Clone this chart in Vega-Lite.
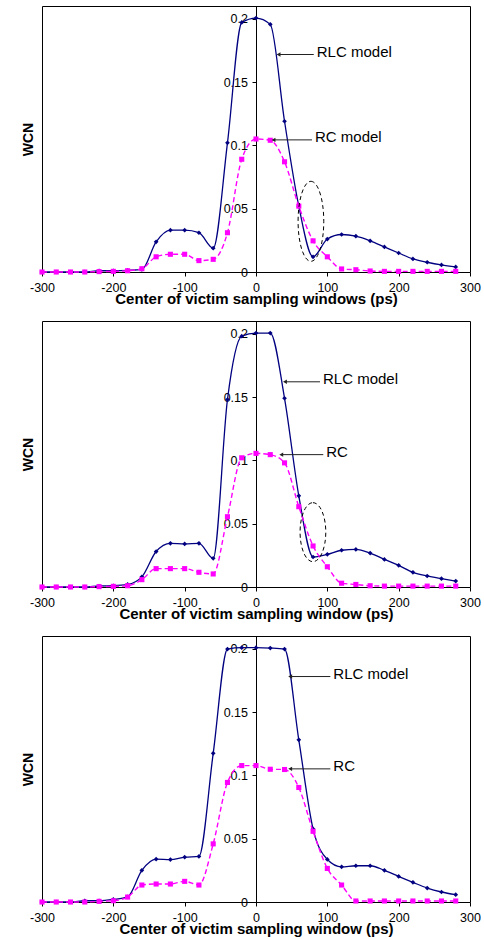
{
  "$schema": "https://vega.github.io/schema/vega-lite/v6.json",
  "padding": {"left": 20, "top": 5, "right": 5, "bottom": 5},
  "background": "white",
  "bounds": "flush",
  "spacing": 49,
  "config": {
    "font": "Liberation Sans",
    "view": {"stroke": "black", "strokeWidth": 1},
    "axis": {"grid": false, "labelFont": "Liberation Sans", "titleFont": "Liberation Sans", "labelColor": "black", "titleColor": "black", "domainColor": "black", "tickColor": "black", "labelFontSize": 12.5, "tickSize": 4, "labelFlush": false}
  },
  "datasets": {
    "p1rlc": [{"t":-300,"v":0},{"t":-280,"v":0},{"t":-260,"v":0},{"t":-240,"v":0},{"t":-220,"v":0.001},{"t":-200,"v":0.001},{"t":-180,"v":0.0013},{"t":-160,"v":0.002},{"t":-140,"v":0.0238},{"t":-120,"v":0.033},{"t":-100,"v":0.033},{"t":-80,"v":0.031},{"t":-60,"v":0.0188},{"t":-40,"v":0.102},{"t":-20,"v":0.197},{"t":0,"v":0.2005},{"t":20,"v":0.1955},{"t":40,"v":0.119},{"t":60,"v":0.052},{"t":80,"v":0.012},{"t":100,"v":0.026},{"t":120,"v":0.0296},{"t":140,"v":0.0283},{"t":160,"v":0.0246},{"t":180,"v":0.0198},{"t":200,"v":0.015},{"t":220,"v":0.0103},{"t":240,"v":0.0077},{"t":260,"v":0.0056},{"t":280,"v":0.004}],
    "p1rc": [{"t":-300,"v":0},{"t":-280,"v":0},{"t":-260,"v":0},{"t":-240,"v":0},{"t":-220,"v":0.0003},{"t":-200,"v":0.0005},{"t":-180,"v":0.001},{"t":-160,"v":0.0026},{"t":-140,"v":0.012},{"t":-120,"v":0.014},{"t":-100,"v":0.014},{"t":-80,"v":0.009},{"t":-60,"v":0.01},{"t":-40,"v":0.031},{"t":-20,"v":0.089},{"t":0,"v":0.105},{"t":20,"v":0.104},{"t":40,"v":0.087},{"t":60,"v":0.052},{"t":80,"v":0.0246},{"t":100,"v":0.012},{"t":120,"v":0.0024},{"t":140,"v":0.0018},{"t":160,"v":0.0008},{"t":180,"v":0.0005},{"t":200,"v":0.0005},{"t":220,"v":0.0005},{"t":240,"v":0.0005},{"t":260,"v":0.0005},{"t":280,"v":0.0005}],
    "p2rlc": [{"t":-300,"v":0},{"t":-280,"v":0},{"t":-260,"v":0},{"t":-240,"v":0},{"t":-220,"v":0.0008},{"t":-200,"v":0.001},{"t":-180,"v":0.002},{"t":-160,"v":0.008},{"t":-140,"v":0.028},{"t":-120,"v":0.0345},{"t":-100,"v":0.034},{"t":-80,"v":0.0345},{"t":-60,"v":0.0226},{"t":-40,"v":0.148},{"t":-20,"v":0.198},{"t":0,"v":0.2005},{"t":20,"v":0.2005},{"t":40,"v":0.149},{"t":60,"v":0.072},{"t":80,"v":0.0237},{"t":100,"v":0.0258},{"t":120,"v":0.029},{"t":140,"v":0.0297},{"t":160,"v":0.0268},{"t":180,"v":0.0218},{"t":200,"v":0.0171},{"t":220,"v":0.0116},{"t":240,"v":0.0087},{"t":260,"v":0.0066},{"t":280,"v":0.0047}],
    "p2rc": [{"t":-300,"v":0},{"t":-280,"v":0},{"t":-260,"v":0},{"t":-240,"v":0},{"t":-220,"v":0.0003},{"t":-200,"v":0.0005},{"t":-180,"v":0.001},{"t":-160,"v":0.0058},{"t":-140,"v":0.0145},{"t":-120,"v":0.0145},{"t":-100,"v":0.0145},{"t":-80,"v":0.0116},{"t":-60,"v":0.0103},{"t":-40,"v":0.0555},{"t":-20,"v":0.102},{"t":0,"v":0.1055},{"t":20,"v":0.1045},{"t":40,"v":0.098},{"t":60,"v":0.0634},{"t":80,"v":0.0324},{"t":100,"v":0.016},{"t":120,"v":0.003},{"t":140,"v":0.002},{"t":160,"v":0.001},{"t":180,"v":0.0007},{"t":200,"v":0.0007},{"t":220,"v":0.0007},{"t":240,"v":0.0007},{"t":260,"v":0.0007},{"t":280,"v":0.0007}],
    "p3rlc": [{"t":-300,"v":0},{"t":-280,"v":0},{"t":-260,"v":0},{"t":-240,"v":0.001},{"t":-220,"v":0.001},{"t":-200,"v":0.002},{"t":-180,"v":0.004},{"t":-160,"v":0.025},{"t":-140,"v":0.0338},{"t":-120,"v":0.0335},{"t":-100,"v":0.0354},{"t":-80,"v":0.036},{"t":-60,"v":0.1174},{"t":-40,"v":0.1997},{"t":-20,"v":0.2008},{"t":0,"v":0.2008},{"t":20,"v":0.2005},{"t":40,"v":0.1997},{"t":60,"v":0.128},{"t":80,"v":0.0577},{"t":100,"v":0.0336},{"t":120,"v":0.0278},{"t":140,"v":0.0286},{"t":160,"v":0.0286},{"t":180,"v":0.025},{"t":200,"v":0.0202},{"t":220,"v":0.0155},{"t":240,"v":0.011},{"t":260,"v":0.0079},{"t":280,"v":0.0058}],
    "p3rc": [{"t":-300,"v":0},{"t":-280,"v":0},{"t":-260,"v":0},{"t":-240,"v":0},{"t":-220,"v":0.0005},{"t":-200,"v":0.001},{"t":-180,"v":0.0039},{"t":-160,"v":0.0134},{"t":-140,"v":0.0142},{"t":-120,"v":0.0142},{"t":-100,"v":0.0163},{"t":-80,"v":0.0134},{"t":-60,"v":0.0459},{"t":-40,"v":0.0944},{"t":-20,"v":0.1077},{"t":0,"v":0.1077},{"t":20,"v":0.1048},{"t":40,"v":0.1046},{"t":60,"v":0.0904},{"t":80,"v":0.0558},{"t":100,"v":0.0265},{"t":120,"v":0.0134},{"t":140,"v":0.0008},{"t":160,"v":0.0008},{"t":180,"v":0.0008},{"t":200,"v":0.0008},{"t":220,"v":0.0008},{"t":240,"v":0.0008},{"t":260,"v":0.0008},{"t":280,"v":0.0008}],
    "p1ann": [{"t":81,"t2":31.6,"v":0.1717,"label":"RLC model"},{"t":78.5,"t2":24.5,"v":0.1043,"label":"RC model"}],
    "p2ann": [{"t":89.7,"t2":40.6,"v":0.162,"label":"RLC model"},{"t":94.3,"t2":35.4,"v":0.1045,"label":"RC"}],
    "p3ann": [{"t":104.2,"t2":47.9,"v":0.178,"label":"RLC model"},{"t":104.2,"t2":47.9,"v":0.1051,"label":"RC"}],
    "p1ell": [{"t":77,"v":0.04}],
    "p2ell": [{"t":79.8,"v":0.0433}]
  },
  "vconcat": [
    {
      "width": 428, "height": 266,
      "encoding": {
        "x": {"field": "t", "type": "quantitative", "scale": {"domain": [-300, 300], "nice": false},
              "axis": {"title": "Center of victim sampling windows (ps)", "values": [-300,-200,-100,0,100,200,300], "labelExpr": "'' + datum.value", "domain": false, "labelPadding": 5, "titleFontSize": 15, "titleFontWeight": "bold", "titlePadding": -2}},
        "y": {"field": "v", "type": "quantitative", "scale": {"domain": [0, 0.21], "nice": false},
              "axis": {"title": "WCN", "values": [0,0.05,0.1,0.15,0.2], "labelExpr": "'' + datum.value", "offset": -214, "labelPadding": 4.5, "titleFontSize": 14, "titleFontWeight": "bold", "titleX": -228, "titleY": 133, "titleBaseline": "middle", "titleAngle": -90}}
      },
      "layer": [
        {"data": {"name": "p1rlc"}, "mark": {"type": "line", "color": "#000080", "strokeWidth": 1.3, "interpolate": "monotone", "point": {"shape": "diamond", "size": 22, "filled": true, "color": "#000080", "opacity": 1}}},
        {"data": {"name": "p1rc"}, "mark": {"type": "line", "color": "#FF00FF", "strokeWidth": 1.4, "strokeDash": [5, 3], "interpolate": "monotone", "point": {"shape": "square", "size": 26, "filled": true, "color": "#FF00FF", "opacity": 1}}},
        {"data": {"name": "p1ann"}, "mark": {"type": "rule", "color": "#222222", "strokeWidth": 1}, "encoding": {"x2": {"field": "t2"}}},
        {"data": {"name": "p1ann"}, "mark": {"type": "point", "shape": "triangle-left", "size": 20, "filled": true, "color": "#222222", "opacity": 1}, "encoding": {"x": {"field": "t2", "type": "quantitative"}}},
        {"data": {"name": "p1ann"}, "mark": {"type": "text", "align": "left", "baseline": "middle", "dx": 3, "dy": -3, "fontSize": 15, "font": "Liberation Sans", "color": "black"}, "encoding": {"text": {"field": "label"}}},
        {"data": {"name": "p1ell"}, "mark": {"type": "point", "shape": "M0,-1C0.177,-1 0.321,-0.552 0.321,0C0.321,0.552 0.177,1 0,1C-0.177,1 -0.321,0.552 -0.321,0C-0.321,-0.552 -0.177,-1 0,-1Z", "size": 6400, "filled": false, "color": "black", "strokeWidth": 1, "strokeDash": [4, 3], "opacity": 1}}
      ]
    },
    {
      "width": 428, "height": 266,
      "encoding": {
        "x": {"field": "t", "type": "quantitative", "scale": {"domain": [-300, 300], "nice": false},
              "axis": {"title": "Center of victim sampling window (ps)", "values": [-300,-200,-100,0,100,200,300], "labelExpr": "'' + datum.value", "domain": false, "labelPadding": 5, "titleFontSize": 15, "titleFontWeight": "bold", "titlePadding": -2}},
        "y": {"field": "v", "type": "quantitative", "scale": {"domain": [0, 0.21], "nice": false},
              "axis": {"title": "WCN", "values": [0,0.05,0.1,0.15,0.2], "labelExpr": "'' + datum.value", "offset": -214, "labelPadding": 4.5, "titleFontSize": 14, "titleFontWeight": "bold", "titleX": -228, "titleY": 133, "titleBaseline": "middle", "titleAngle": -90}}
      },
      "layer": [
        {"data": {"name": "p2rlc"}, "mark": {"type": "line", "color": "#000080", "strokeWidth": 1.3, "interpolate": "monotone", "point": {"shape": "diamond", "size": 22, "filled": true, "color": "#000080", "opacity": 1}}},
        {"data": {"name": "p2rc"}, "mark": {"type": "line", "color": "#FF00FF", "strokeWidth": 1.4, "strokeDash": [5, 3], "interpolate": "monotone", "point": {"shape": "square", "size": 26, "filled": true, "color": "#FF00FF", "opacity": 1}}},
        {"data": {"name": "p2ann"}, "mark": {"type": "rule", "color": "#222222", "strokeWidth": 1}, "encoding": {"x2": {"field": "t2"}}},
        {"data": {"name": "p2ann"}, "mark": {"type": "point", "shape": "triangle-left", "size": 20, "filled": true, "color": "#222222", "opacity": 1}, "encoding": {"x": {"field": "t2", "type": "quantitative"}}},
        {"data": {"name": "p2ann"}, "mark": {"type": "text", "align": "left", "baseline": "middle", "dx": 3, "dy": -3, "fontSize": 15, "font": "Liberation Sans", "color": "black"}, "encoding": {"text": {"field": "label"}}},
        {"data": {"name": "p2ell"}, "mark": {"type": "point", "shape": "M0,-1C0.241,-1 0.436,-0.552 0.436,0C0.436,0.552 0.241,1 0,1C-0.241,1 -0.436,0.552 -0.436,0C-0.436,-0.552 -0.241,-1 0,-1Z", "size": 3481, "filled": false, "color": "black", "strokeWidth": 1, "strokeDash": [4, 3], "opacity": 1}}
      ]
    },
    {
      "width": 428, "height": 266,
      "encoding": {
        "x": {"field": "t", "type": "quantitative", "scale": {"domain": [-300, 300], "nice": false},
              "axis": {"title": "Center of victim sampling window (ps)", "values": [-300,-200,-100,0,100,200,300], "labelExpr": "'' + datum.value", "domain": false, "labelPadding": 5, "titleFontSize": 15, "titleFontWeight": "bold", "titlePadding": -2}},
        "y": {"field": "v", "type": "quantitative", "scale": {"domain": [0, 0.21], "nice": false},
              "axis": {"title": "WCN", "values": [0,0.05,0.1,0.15,0.2], "labelExpr": "'' + datum.value", "offset": -214, "labelPadding": 4.5, "titleFontSize": 14, "titleFontWeight": "bold", "titleX": -228, "titleY": 133, "titleBaseline": "middle", "titleAngle": -90}}
      },
      "layer": [
        {"data": {"name": "p3rlc"}, "mark": {"type": "line", "color": "#000080", "strokeWidth": 1.3, "interpolate": "monotone", "point": {"shape": "diamond", "size": 22, "filled": true, "color": "#000080", "opacity": 1}}},
        {"data": {"name": "p3rc"}, "mark": {"type": "line", "color": "#FF00FF", "strokeWidth": 1.4, "strokeDash": [5, 3], "interpolate": "monotone", "point": {"shape": "square", "size": 26, "filled": true, "color": "#FF00FF", "opacity": 1}}},
        {"data": {"name": "p3ann"}, "mark": {"type": "rule", "color": "#222222", "strokeWidth": 1}, "encoding": {"x2": {"field": "t2"}}},
        {"data": {"name": "p3ann"}, "mark": {"type": "point", "shape": "triangle-left", "size": 20, "filled": true, "color": "#222222", "opacity": 1}, "encoding": {"x": {"field": "t2", "type": "quantitative"}}},
        {"data": {"name": "p3ann"}, "mark": {"type": "text", "align": "left", "baseline": "middle", "dx": 3, "dy": -3, "fontSize": 15, "font": "Liberation Sans", "color": "black"}, "encoding": {"text": {"field": "label"}}}
      ]
    }
  ]
}
